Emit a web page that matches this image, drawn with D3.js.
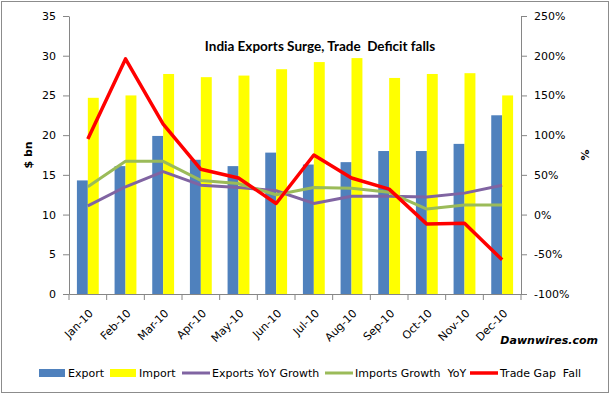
<!DOCTYPE html>
<html>
<head>
<meta charset="utf-8">
<script src="https://cdn.jsdelivr.net/npm/d3@7"></script>
<style>
  body { margin: 0; background: #fff; }
  text { font-family: "DejaVu Sans", sans-serif; }
</style>
</head>
<body>
<div id="chart"></div>
<script>
var months = ["Jan-10", "Feb-10", "Mar-10", "Apr-10", "May-10", "Jun-10",
	"Jul-10", "Aug-10", "Sep-10", "Oct-10", "Nov-10", "Dec-10"]
var exportVals = [14.3, 16.1, 19.9, 16.9, 16.1, 17.8, 16.3, 16.6, 18.0, 18.0, 18.9, 22.5]
var importVals = [24.7, 25.0, 27.7, 27.3, 27.5, 28.3, 29.2, 29.7, 27.2, 27.7, 27.8, 25.0]
var exportsYoY = [11, 35, 54, 37, 34, 30, 14, 23, 23, 22, 27, 37]
var importsYoY = [35, 67, 67, 43, 39, 25, 34, 33, 28, 7, 12, 12]
var tradeGap = [95, 196, 114, 57, 46, 14, 75, 46, 32, -12, -11, -57]
var leftTicks = [0, 5, 10, 15, 20, 25, 30, 35]
var rightTicks = [-100, -50, 0, 50, 100, 150, 200, 250]

function drawChart() {
	var width = 612,
		height = 396
	var plotL = 69, plotR = 521, plotT = 16, plotB = 294
	var axisColor = "#868686"

	var svg = d3.select("#chart").append("svg")
		.attr("width", width)
		.attr("height", height)

	// outer border
	svg.append("rect")
		.attr("x", 1.5).attr("y", 1.5)
		.attr("width", 607).attr("height", 391)
		.attr("fill", "none").attr("stroke", "#8c8c8c").attr("stroke-width", 1)

	var x = d3.scaleBand()
		.domain(months)
		.range([plotL, plotR])
		.paddingInner(0.42)
		.paddingOuter(0.21)

	var xc = d3.scaleBand().domain(months).range([plotL, plotR])

	var sub = d3.scaleBand()
		.domain(["export", "import"])
		.range([0, x.bandwidth()])

	var y = d3.scaleLinear().domain([0, 35]).range([plotB, plotT])
	var y2 = d3.scaleLinear().domain([-100, 250]).range([plotB, plotT])

	// bars
	var g = svg.append("g")
	months.forEach(function (m, i) {
		g.append("rect")
			.attr("x", x(m) + sub("export"))
			.attr("y", y(exportVals[i]))
			.attr("width", sub.bandwidth())
			.attr("height", y(0) - y(exportVals[i]))
			.attr("fill", "#4F81BD")
		g.append("rect")
			.attr("x", x(m) + sub("import"))
			.attr("y", y(importVals[i]))
			.attr("width", sub.bandwidth())
			.attr("height", y(0) - y(importVals[i]))
			.attr("fill", "#FFFF00")
	})

	// lines
	var line = d3.line()
		.x(function (d, i) { return xc(months[i]) + xc.bandwidth() / 2 })
		.y(function (d) { return y2(d) })

	var lines = [
		{ data: exportsYoY, color: "#8064A2", w: 3 },
		{ data: importsYoY, color: "#9BBB59", w: 3 },
		{ data: tradeGap, color: "#FF0000", w: 3.5 }
	]
	lines.forEach(function (l) {
		svg.append("path")
			.attr("d", line(l.data))
			.attr("fill", "none")
			.attr("stroke", l.color)
			.attr("stroke-width", l.w)
			.attr("stroke-linejoin", "round")
	})

	// left axis
	var yAxis = d3.axisLeft(y).tickValues(leftTicks).tickSize(6).tickSizeOuter(0).tickPadding(7)
	var ya = svg.append("g").attr("transform", "translate(" + plotL + ",0)").call(yAxis)

	// right axis
	var y2Axis = d3.axisRight(y2).tickValues(rightTicks).tickSize(6).tickSizeOuter(0).tickPadding(7)
		.tickFormat(function (d) { return d + "%" })
	var ya2 = svg.append("g").attr("transform", "translate(" + plotR + ",0)").call(y2Axis)

	// bottom axis
	var xAxis = d3.axisBottom(xc).tickSize(0).tickSizeOuter(0).tickPadding(0)
	var xa = svg.append("g").attr("transform", "translate(0," + plotB + ")").call(xAxis)
	xa.selectAll(".tick text")
		.attr("y", 0)
		.attr("dy", 0)
		.attr("text-anchor", "end")
		.attr("transform", "translate(6,20) rotate(-45)")
	xa.selectAll(".tick line").remove()
	var bounds = months.map(function (m) { return xc(m) }).concat([plotR])
	xa.selectAll(".bnd").data(bounds).enter().append("line")
		.attr("x1", function (d) { return d }).attr("x2", function (d) { return d })
		.attr("y1", 0).attr("y2", 6)

	;[ya, ya2, xa].forEach(function (a) {
		a.selectAll("path.domain").attr("stroke", axisColor)
		a.selectAll("line").attr("stroke", axisColor)
		a.selectAll("text").attr("fill", "#000").style("font-size", "11px")
			.style("font-family", "'DejaVu Sans', sans-serif")
	})

	// titles
	svg.append("text")
		.attr("x", 320).attr("y", 51)
		.attr("text-anchor", "middle")
		.attr("xml:space", "preserve")
		.style("font-family", "Lato, sans-serif")
		.style("font-weight", "bold")
		.style("font-size", "13.5px")
		.text("India Exports Surge, Trade  Deficit falls")

	svg.append("text")
		.attr("transform", "translate(32,155) rotate(-90)")
		.attr("text-anchor", "middle")
		.style("font-weight", "bold")
		.style("font-size", "11px")
		.text("$ bn")

	svg.append("text")
		.attr("transform", "translate(589,155) rotate(-90)")
		.attr("text-anchor", "middle")
		.style("font-weight", "bold")
		.style("font-size", "11px")
		.text("%")

	svg.append("text")
		.attr("x", 598).attr("y", 344)
		.attr("text-anchor", "end")
		.style("font-weight", "bold")
		.style("font-style", "italic")
		.style("font-size", "11px")
		.text("Dawnwires.com")

	// legend
	var legend = [
		{ name: "Export", color: "#4F81BD", type: "bar", x: 39 },
		{ name: "Import", color: "#FFFF00", type: "bar", x: 110 },
		{ name: "Exports YoY Growth", color: "#8064A2", type: "line", x: 182 },
		{ name: "Imports Growth  YoY", color: "#9BBB59", type: "line", x: 325 },
		{ name: "Trade Gap  Fall", color: "#FF0000", type: "line", x: 470 }
	]
	var ly = 373
	legend.forEach(function (d) {
		if (d.type == "bar") {
			svg.append("rect")
				.attr("x", d.x).attr("y", ly - 4)
				.attr("width", 26).attr("height", 8)
				.attr("fill", d.color)
		} else {
			svg.append("line")
				.attr("x1", d.x).attr("x2", d.x + 28)
				.attr("y1", ly).attr("y2", ly)
				.attr("stroke", d.color).attr("stroke-width", d.color == "#FF0000" ? 3.5 : 3)
		}
		svg.append("text")
			.attr("x", d.x + (d.type == "bar" ? 29 : 30)).attr("y", ly)
			.attr("dy", "0.35em")
			.attr("xml:space", "preserve")
			.style("font-size", "11px")
			.text(d.name)
	})
}

drawChart()
</script>
</body>
</html>
